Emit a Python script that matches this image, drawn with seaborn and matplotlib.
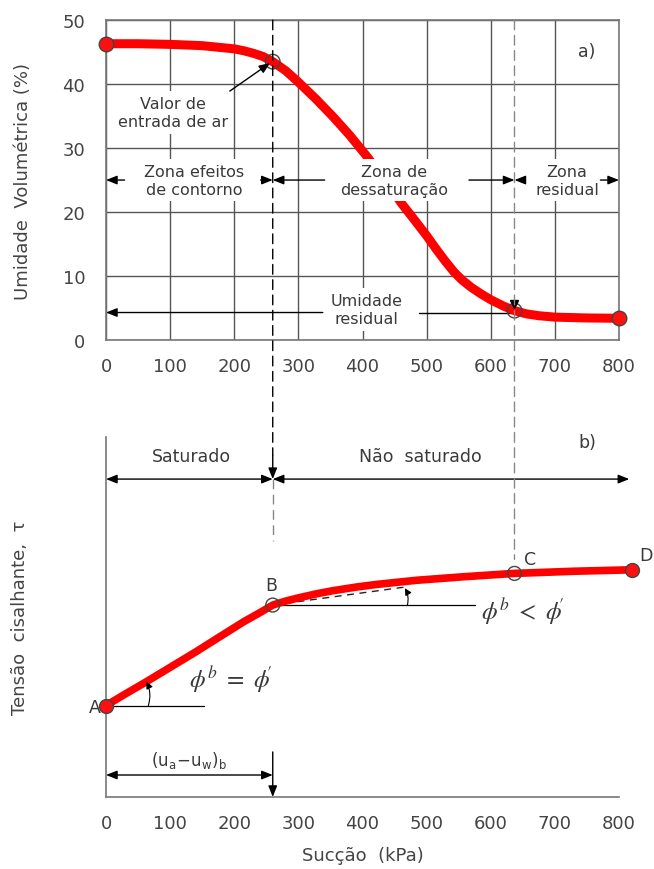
import matplotlib
matplotlib.use("Agg")
import matplotlib.pyplot as plt
import seaborn as sns
import pandas as pd
from matplotlib.patches import ConnectionPatch

# panel a) soil-water characteristic curve
swcc_succao = [0, 50, 100, 150, 200, 215, 230, 245, 260, 280, 300, 327, 354, 380, 406,
               435, 462, 480, 500, 515, 530, 543, 555, 570, 585, 600, 620, 637, 655,
               675, 700, 750, 800]
swcc_umidade = [46.3, 46.3, 46.2, 46.0, 45.5, 45.2, 44.8, 44.3, 43.5, 42.1, 40.3, 37.7,
                34.9, 32.0, 28.8, 25.0, 21.2, 18.9, 16.3, 14.2, 12.2, 10.6, 9.4, 8.2,
                7.2, 6.3, 5.3, 4.6, 4.1, 3.8, 3.58, 3.45, 3.4]
swcc_pt_x = [0, 260, 637, 800]
swcc_pt_y = [46.3, 43.5, 4.6, 3.4]
swcc_pt_filled = [True, False, False, True]

zone_edges = [0, 260, 637, 800]
zone_names = ["Zona efeitos\nde contorno", "Zona de\ndessaturação", "Zona\nresidual"]
umidade_residual = 4.3

# panel b) shear strength vs suction
tau_succao = [0, 30, 60, 100, 140, 180, 215, 240, 260, 280, 300, 330, 354, 390, 420,
              485, 560, 637, 730, 820]
tau_valor = [2.54, 2.86, 3.17, 3.6, 4.03, 4.48, 4.87, 5.12, 5.33, 5.44, 5.53, 5.65,
             5.73, 5.83, 5.9, 6.02, 6.12, 6.21, 6.27, 6.31]
pontos = ["A", "B", "C", "D"]
pontos_x = [0, 260, 637, 820]
pontos_y = [2.54, 5.33, 6.21, 6.31]
pontos_filled = [True, False, False, True]

regime_edges = [0, 260, 816]
regime_names = ["Saturado", "Não  saturado"]

x_ticks = [0, 100, 200, 300, 400, 500, 600, 700, 800]
y_ticks = [0, 10, 20, 30, 40, 50]

entrada_ar = zone_edges[1]
residual = zone_edges[2]

sns.set_theme(style="white")
plt.rcParams["font.family"] = ["DejaVu Sans"]

TXT = "#3a3a3a"
arrow_kw = dict(arrowstyle="-|>,head_length=0.55,head_width=0.22", color="black",
                lw=1.0, shrinkA=0, shrinkB=0, mutation_scale=12)
darrow_kw = dict(arrowstyle="<|-|>,head_length=0.55,head_width=0.22", color="black",
                 lw=1.0, shrinkA=0, shrinkB=0, mutation_scale=12)
white_box = dict(boxstyle="square,pad=0.3", fc="white", ec="none")
NOTE_FS = 11.5

fig = plt.figure(figsize=(6.54, 8.7), dpi=100)
ax1 = fig.add_axes([0.1621, 0.608, 0.7844, 0.3678])
ax2 = fig.add_axes([0.1621, 0.0828, 0.7844, 0.4138])

# ---------------- panel a
df_a = pd.DataFrame({"succao": swcc_succao, "umidade": swcc_umidade})
sns.lineplot(data=df_a, x="succao", y="umidade", ax=ax1, color="#ff0000", lw=6.5,
             solid_capstyle="round", solid_joinstyle="round", zorder=3)
pts_a = pd.DataFrame({"x": swcc_pt_x, "y": swcc_pt_y, "f": swcc_pt_filled})
sns.scatterplot(data=pts_a[pts_a.f], x="x", y="y", ax=ax1, s=110, color="#ff1010",
                edgecolor="#444", linewidth=1.0, zorder=5, clip_on=False)
sns.scatterplot(data=pts_a[~pts_a.f], x="x", y="y", ax=ax1, s=110, facecolor="none",
                edgecolor="#444", linewidth=1.0, zorder=5, clip_on=False)

ax1.set_xlim(0, 800)
ax1.set_ylim(0, 50)
ax1.set_xticks(x_ticks)
ax1.set_yticks(y_ticks)
ax1.grid(True, color="#555", lw=1.0)
ax1.set_axisbelow(True)
for sp in ax1.spines.values():
    sp.set_color("#777")
    sp.set_linewidth(1.2)
ax1.tick_params(axis="both", length=0, labelsize=13, labelcolor="#444")
ax1.tick_params(axis="x", pad=12)
ax1.tick_params(axis="y", pad=15)
ax1.set_xlabel("")
ax1.set_ylabel("Umidade  Volumétrica (%)", fontsize=13, color="#444")
ax1.yaxis.set_label_coords(-0.145, 0.5)

# zone dimension lines
zone_y = 25
zone_gaps = [(29, 241), (341, 566), (647, 771)]
zone_label_x = [137, 449, 719]
for i, name in enumerate(zone_names):
    x0, x1 = zone_edges[i], zone_edges[i + 1]
    g0, g1 = zone_gaps[i]
    ax1.annotate("", xy=(x0, zone_y), xytext=(g0, zone_y), arrowprops=arrow_kw, zorder=6)
    ax1.annotate("", xy=(x1, zone_y), xytext=(g1, zone_y), arrowprops=arrow_kw, zorder=6)
    ax1.text(zone_label_x[i], zone_y, name, ha="center", va="center", fontsize=NOTE_FS,
             color=TXT, bbox=white_box, zorder=4, linespacing=1.25)

# residual moisture
ax1.annotate("", xy=(0, umidade_residual), xytext=(338, umidade_residual),
             arrowprops=arrow_kw, zorder=2)
ax1.plot([488, residual], [umidade_residual, umidade_residual], color="black", lw=1.0, zorder=2)
ax1.text(406, 4.8, "Umidade\nresidual", ha="center", va="center", fontsize=NOTE_FS,
         color=TXT, bbox=white_box, zorder=4, linespacing=1.25)
ax1.plot([residual], [5.6], marker="v", ms=6, color="black", zorder=6)

# air entry value
ax1.annotate("", xy=(256, 43.3), xytext=(193, 38.9), arrowprops=arrow_kw, zorder=6)
ax1.text(104, 35.6, "Valor de\nentrada de ar", ha="center", va="center", fontsize=NOTE_FS,
         color=TXT, bbox=white_box, zorder=4, linespacing=1.25)
ax1.text(750, 45.1, "a)", ha="center", va="center", fontsize=12.5, color=TXT)

# ---------------- panel b
df_b = pd.DataFrame({"succao": tau_succao, "tau": tau_valor})
ax2.plot([entrada_ar, 470], [5.33, 5.84], color="#222", lw=1.0, ls=(0, (5, 4)), zorder=2)
sns.lineplot(data=df_b, x="succao", y="tau", ax=ax2, color="#ff0000", lw=5.5,
             solid_capstyle="round", solid_joinstyle="round", zorder=3)
pts_b = pd.DataFrame({"x": pontos_x, "y": pontos_y, "f": pontos_filled})
sns.scatterplot(data=pts_b[pts_b.f], x="x", y="y", ax=ax2, s=100, color="#ff1010",
                edgecolor="#444", linewidth=1.0, zorder=5, clip_on=False)
sns.scatterplot(data=pts_b[~pts_b.f], x="x", y="y", ax=ax2, s=100, facecolor="none",
                edgecolor="#444", linewidth=1.0, zorder=5, clip_on=False)
for ln in ax2.lines:
    ln.set_clip_on(False)

ax2.set_xlim(0, 800)
ax2.set_ylim(0, 10)
ax2.set_xticks(x_ticks)
ax2.set_yticks([])
ax2.grid(False)
for side in ["top", "right"]:
    ax2.spines[side].set_visible(False)
for side in ["left", "bottom"]:
    ax2.spines[side].set_color("#777")
    ax2.spines[side].set_linewidth(1.2)
ax2.tick_params(axis="x", length=0, labelsize=13, labelcolor="#444", pad=12)
ax2.set_xlabel("Sucção  (kPa)", fontsize=13, color="#444")
ax2.xaxis.set_label_coords(0.5, -0.135)
ax2.set_ylabel("Tensão  cisalhante,  τ", fontsize=13, color="#444")
ax2.yaxis.set_label_coords(-0.15, 0.5)

# point labels
label_off = [(-18, -0.05), (-3, 0.55), (24, 0.4), (22, 0.4)]
for name, x, y, (dx, dy) in zip(pontos, pontos_x, pontos_y, label_off):
    ax2.text(x + dx, y + dy, name, ha="center", va="center", fontsize=12.5, color=TXT)

# regime dimension line
regime_y = 8.83
for i, name in enumerate(regime_names):
    x0, x1 = regime_edges[i], regime_edges[i + 1]
    ax2.annotate("", xy=(x0, regime_y), xytext=(x1, regime_y), arrowprops=darrow_kw,
                 annotation_clip=False)
ax2.text(133, 9.48, regime_names[0], ha="center", va="center", fontsize=12.5, color=TXT)
ax2.text(491, 9.48, regime_names[1], ha="center", va="center", fontsize=12.5, color=TXT)
ax2.text(751, 9.86, "b)", ha="center", va="center", fontsize=12.5, color=TXT)

# angle lines and arcs
ax2.plot([0, 153], [pontos_y[0], pontos_y[0]], color="black", lw=0.9, zorder=2)
ax2.plot([entrada_ar, 576], [pontos_y[1], pontos_y[1]], color="black", lw=0.9, zorder=2)
arc_kw = dict(arrowstyle="-|>,head_length=0.5,head_width=0.25", color="black", lw=0.8,
              shrinkA=0, shrinkB=0, mutation_scale=8, connectionstyle="arc3,rad=0.2")
ax2.annotate("", xy=(63, 3.2), xytext=(66, pontos_y[0]), arrowprops=arc_kw, zorder=6)
ax2.annotate("", xy=(466, 5.8), xytext=(470, pontos_y[1]), arrowprops=arc_kw, zorder=6)
ax2.text(195, 3.3, r"$\phi^{b}\ =\ \phi\!'$", ha="center", va="center", fontsize=18,
         color=TXT, math_fontfamily="stix")
ax2.text(650, 5.17, r"$\phi^{b}\ <\ \phi\!'$", ha="center", va="center", fontsize=18,
         color=TXT, math_fontfamily="stix")

# (ua-uw)b dimension
ax2.annotate("", xy=(0, 0.61), xytext=(entrada_ar, 0.61), arrowprops=darrow_kw)
ax2.annotate("", xy=(entrada_ar, 0), xytext=(entrada_ar, 1.25), arrowprops=arrow_kw,
             annotation_clip=False)
ax2.text(130, 1.05, r"$(\mathrm{u_a\!-\!u_w})_\mathrm{b}$", ha="center", va="center",
         fontsize=12, color=TXT, math_fontfamily="dejavusans")

# guide lines linking the two panels
con1 = ConnectionPatch(xyA=(entrada_ar, 50), coordsA=ax1.transData,
                       xyB=(entrada_ar, 9.5), coordsB=ax2.transData,
                       color="black", lw=1.0, linestyle=(0, (7, 4)))
fig.add_artist(con1)
ax2.annotate("", xy=(entrada_ar, regime_y), xytext=(entrada_ar, 9.5), arrowprops=arrow_kw,
             annotation_clip=False)
ax2.plot([entrada_ar, entrada_ar], [regime_y, 7.1], color="#888", lw=1.0, ls=(0, (7, 4)))
con2 = ConnectionPatch(xyA=(residual, 50), coordsA=ax1.transData,
                       xyB=(residual, 6.6), coordsB=ax2.transData,
                       color="#888", lw=1.0, linestyle=(0, (7, 4)))
fig.add_artist(con2)

fig.savefig("out.png", dpi=100, facecolor="white")
